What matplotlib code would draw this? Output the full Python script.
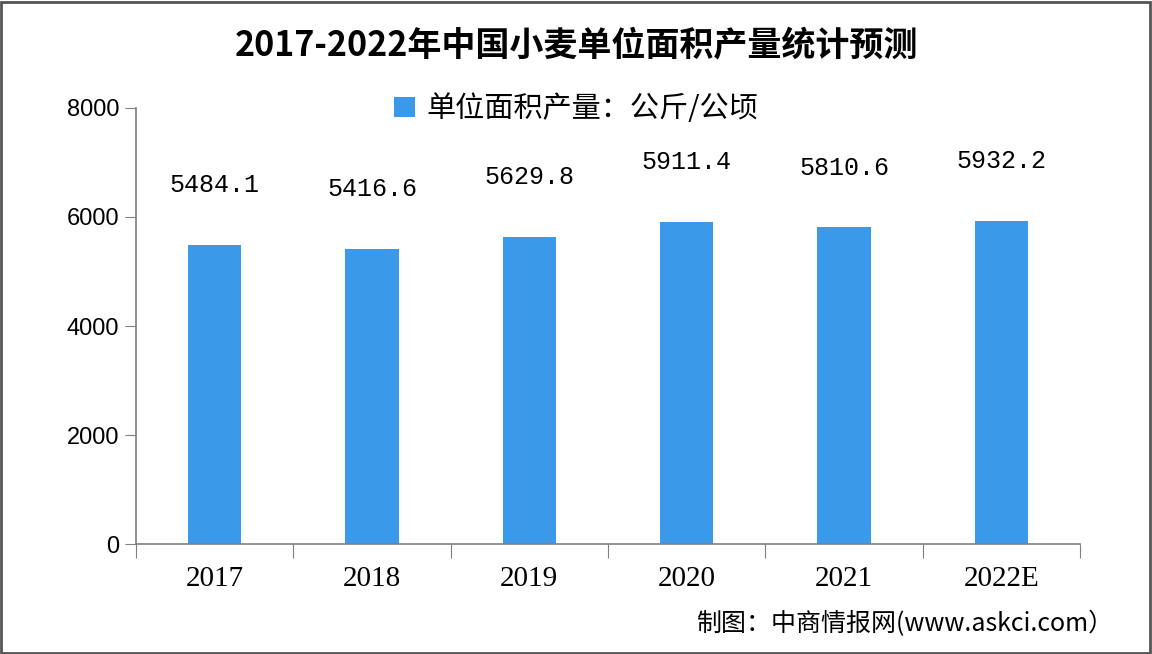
import matplotlib.pyplot as plt
from matplotlib.patches import Rectangle

plt.rcParams['font.family'] = ['Noto Sans CJK SC', 'DejaVu Sans']

years = ['2017', '2018', '2019', '2020', '2021', '2022E']
yields = [5484.1, 5416.6, 5629.8, 5911.4, 5810.6, 5932.2]
series_name = '单位面积产量：公斤/公顷'
title = '2017-2022年中国小麦单位面积产量统计预测'
source = '制图：中商情报网(www.askci.com）'

bar_color = '#3A99E8'
axis_color = '#7F7F7F'

fig = plt.figure(figsize=(11.52, 6.54), dpi=100)
ax = fig.add_axes([0.118, 0.168, 0.8195, 0.667])

x = list(range(len(years)))
bars = ax.bar(x, yields, width=0.34, color=bar_color, label=series_name, zorder=2)

for xi, v in zip(x, yields):
    ax.annotate(f'{v:.1f}', (xi, v), xytext=(0, 43), textcoords='offset points',
                ha='center', va='center', fontsize=18, family='Liberation Mono')

ax.set_xlim(-0.5, len(years) - 0.5)
ax.set_ylim(0, 8000)
ax.set_yticks([0, 2000, 4000, 6000, 8000])
ax.set_yticklabels(['0', '2000', '4000', '6000', '8000'], family='Liberation Sans', fontsize=17)

# x ticks sit between categories, labels centered under bars
ax.set_xticks([i - 0.5 for i in range(len(years) + 1)])
ax.set_xticklabels([])
ax.set_xticks(x, minor=True)
ax.set_xticklabels(years, minor=True, family='Liberation Serif', fontsize=21)
ax.tick_params(axis='x', which='minor', length=0, pad=16)
ax.tick_params(axis='x', which='major', length=10, color=axis_color, direction='out')
ax.tick_params(axis='y', length=8, color=axis_color, direction='out', pad=4)

for s in ['top', 'right']:
    ax.spines[s].set_visible(False)
for s in ['left', 'bottom']:
    ax.spines[s].set_color(axis_color)
    ax.spines[s].set_linewidth(1.2)

fig.text(0.5, 0.932, title, ha='center', va='center', fontsize=24.5, fontweight='bold')
fig.legend(handles=[bars], labels=[series_name], loc='center', bbox_to_anchor=(0.5, 0.833),
           frameon=False, fontsize=21, handlelength=0.7, handleheight=0.7, handletextpad=0.4)
fig.text(0.967, 0.046, source, ha='right', va='center', fontsize=18)

fig.patches.append(Rectangle((0.001, 0.002), 0.997, 0.995, transform=fig.transFigure,
                             fill=False, edgecolor='#555555', linewidth=2))

fig.savefig('out.png', dpi=100)
